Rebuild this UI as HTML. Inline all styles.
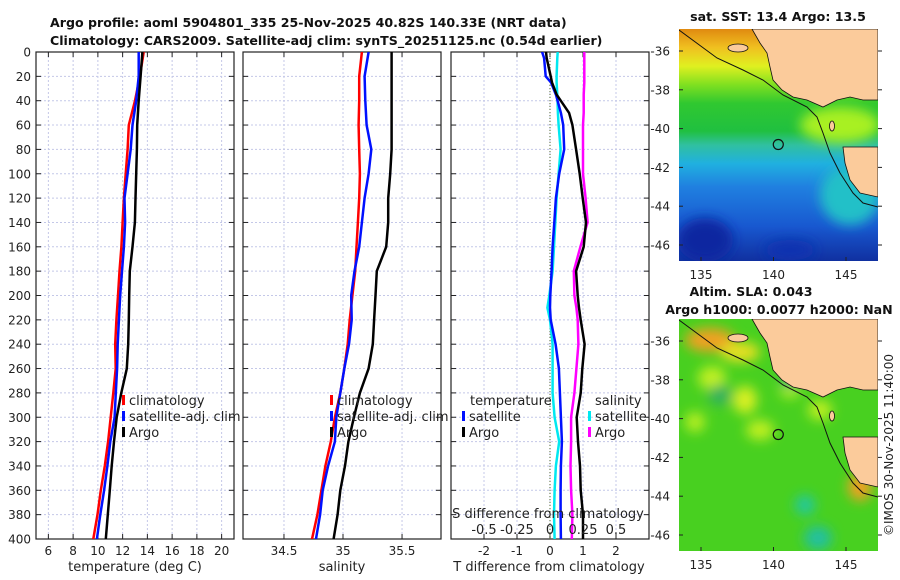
<!DOCTYPE html>
<html><head><meta charset="utf-8"><style>
html,body{margin:0;padding:0;background:#fff}
svg{display:block;font-family:"DejaVu Sans","Liberation Sans",sans-serif}
</style></head><body>
<svg id="fig" width="900" height="580" viewBox="0 0 900 580">
<defs>
<clipPath id="c1"><rect x="36" y="52" width="198" height="487"/></clipPath>
<clipPath id="c2"><rect x="243" y="52" width="198" height="487"/></clipPath>
<clipPath id="c3"><rect x="451" y="52" width="198" height="487"/></clipPath>
<clipPath id="m1"><rect x="679" y="29" width="199" height="232"/></clipPath>
<clipPath id="m2"><rect x="679" y="319" width="199" height="232"/></clipPath>
<linearGradient id="sstg" x1="0" y1="0" x2="0" y2="1">
<stop offset="0" stop-color="#e08a10"/><stop offset="0.08" stop-color="#f0c020"/>
<stop offset="0.16" stop-color="#e0f020"/><stop offset="0.24" stop-color="#80e020"/>
<stop offset="0.32" stop-color="#30c830"/><stop offset="0.44" stop-color="#20c040"/>
<stop offset="0.5" stop-color="#30c0a0"/><stop offset="0.58" stop-color="#20b0e0"/>
<stop offset="0.68" stop-color="#2080e0"/><stop offset="0.85" stop-color="#1858d0"/>
<stop offset="1" stop-color="#1030a0"/></linearGradient>
<filter id="bl"><feGaussianBlur stdDeviation="6"/></filter>
</defs>
<g id="titles" font-weight="bold" font-size="12.6" fill="#111">
<text x="50" y="27">Argo profile: aoml 5904801_335 25-Nov-2025 40.82S 140.33E (NRT data)</text>
<text x="50" y="45">Climatology: CARS2009. Satellite-adj clim: synTS_20251125.nc (0.54d earlier)</text>
</g>
<g id="panels"></g>
<g id="maps"></g>
<text x="893" y="445" font-size="12" fill="#222" text-anchor="middle" transform="rotate(-90 893 445)">©IMOS 30-Nov-2025 11:40:00</text>
</svg>
<script>
const depths=[0,20,40,60,80,100,120,140,160,180,200,220,240,260,280,300,320,340,360,380,400];
const tClim=[13.7,13.4,13.0,12.5,12.4,12.25,12.1,12.0,11.9,11.75,11.63,11.5,11.4,11.44,11.25,11.04,10.83,10.56,10.24,9.97,9.63];
const tSat=[13.3,13.3,13.1,12.8,12.65,12.4,12.15,12.2,12.1,11.95,11.8,11.7,11.6,11.55,11.45,11.35,11.0,10.77,10.5,10.2,9.92];
const tArgo=[13.6,13.45,13.3,13.18,13.15,13.1,13.04,12.99,12.8,12.58,12.53,12.5,12.45,12.34,11.89,11.52,11.3,11.12,10.96,10.8,10.64];
const sClim=[35.16,35.137,35.137,35.132,35.137,35.143,35.137,35.126,35.114,35.103,35.08,35.057,35.04,35.011,34.977,34.931,34.897,34.851,34.817,34.783,34.737];
const sSat=[35.217,35.183,35.189,35.2,35.24,35.217,35.183,35.16,35.137,35.097,35.069,35.074,35.051,35.011,34.977,34.943,34.931,34.874,34.828,34.806,34.771];
const sArgo=[35.412,35.412,35.412,35.412,35.412,35.4,35.383,35.383,35.366,35.286,35.275,35.263,35.252,35.217,35.143,35.092,35.046,35.017,34.977,34.954,34.92];
const dDepths=[0,5,20,25,35,50,60,80,100,120,140,160,180,200,210,220,240,260,280,300,320,340,360,380,400];
const dTSat=[-0.24,-0.18,-0.13,0.03,0.18,0.33,0.4,0.43,0.28,0.18,0.13,0.08,0.05,0.01,0,0.02,0.17,0.27,0.3,0.33,0.36,0.33,0.32,0.32,0.33];
const dTArgo=[-0.12,-0.1,0.02,0.06,0.2,0.58,0.68,0.79,0.9,0.99,1.09,1.02,0.79,0.84,0.88,0.93,1.05,0.98,0.93,0.81,0.85,0.91,0.93,1.0,1.0];
const dSSat=[0.058,0.055,0.05,0.05,0.055,0.06,0.065,0.08,0.065,0.05,0.04,0.03,0.02,-0.005,-0.02,0,0.02,0.02,0.02,0.035,0.07,0.045,0.035,0.03,0.035];
const dSArgo=[0.26,0.26,0.26,0.26,0.255,0.255,0.25,0.25,0.25,0.27,0.285,0.23,0.18,0.185,0.2,0.21,0.215,0.2,0.185,0.16,0.16,0.155,0.16,0.17,0.165];
const yTicks=[0,20,40,60,80,100,120,140,160,180,200,220,240,260,280,300,320,340,360,380,400];
const tTicks=[6,8,10,12,14,16,18,20];
const sTicks=[34.5,35,35.5];
const dTTicks=[-2,-1,0,1,2];
const dSTicks=[-0.5,-0.25,0,0.25,0.5];
const latTicks=[-36,-38,-40,-42,-44,-46];
const lonTicks=[135,140,145];
const argoLon=140.33, argoLat=-40.82;

const NS="http://www.w3.org/2000/svg";
function mk(tag,attrs,parent){const e=document.createElementNS(NS,tag);for(const k in attrs)e.setAttribute(k,attrs[k]);parent.appendChild(e);return e;}
const PT=52,PB=539;
const yScale=d=>PT+(d-0)/(400-0)*(PB-PT);
const panels=document.getElementById('panels');

function panel(x0,x1,dom,ticks,clip,name){
  const xs=v=>x0+(v-dom[0])/(dom[1]-dom[0])*(x1-x0);
  const g=mk('g',{},panels);
  
  
  const grid=mk('g',{stroke:'#c4c8e8','stroke-width':1,'stroke-dasharray':'2,2'},g);
  yTicks.forEach(t=>{if(t>0&&t<400)mk('line',{x1:x0,x2:x1,y1:yScale(t),y2:yScale(t)},grid);});
  ticks.forEach(t=>mk('line',{x1:xs(t),x2:xs(t),y1:PT,y2:PB},grid));
  mk('rect',{x:x0,y:PT,width:x1-x0,height:PB-PT,fill:'none',stroke:'#222','stroke-width':1.2},g);
  const tk=mk('g',{stroke:'#222','stroke-width':1},g);
  yTicks.forEach(t=>{const y=yScale(t);mk('line',{x1:x0,x2:x0+5,y1:y,y2:y},tk);mk('line',{x1:x1-5,x2:x1,y1:y,y2:y},tk);});
  ticks.forEach(t=>{mk('line',{x1:xs(t),x2:xs(t),y1:PB,y2:PB-5},tk);mk('line',{x1:xs(t),x2:xs(t),y1:PT,y2:PT+5},tk);});
  return {g,xs};
}
function line(g,xs,ys,xv,yv,color,w,clip,name){
  const pts=xv.map((v,i)=>xs(v).toFixed(1)+','+yScale(yv[i]).toFixed(1)).join(' ');
  const p=mk('polyline',{points:pts,fill:'none',stroke:color,'stroke-width':w,'stroke-linejoin':'round','clip-path':'url(#'+clip+')'},g);
  
  
}
function txt(g,x,y,s,opts){const t=mk('text',Object.assign({x:x,y:y,'font-size':12,fill:'#222'},opts||{}),g);t.textContent=s;return t;}

const yl=mk('g',{},panels);


yTicks.forEach(t=>txt(yl,31,yScale(t)+4.5,String(t),{'text-anchor':'end'}));

const p1=panel(36,234,[5,21],tTicks,'c1','temperature-panel');
line(p1.g,p1.xs,null,tClim,depths,'#ff0000',2.5,'c1','temp-climatology-line');
line(p1.g,p1.xs,null,tSat,depths,'#0010ff',2.5,'c1','temp-satellite-line');
line(p1.g,p1.xs,null,tArgo,depths,'#000',2.5,'c1','temp-argo-line');
tTicks.forEach(t=>txt(p1.g,p1.xs(t),555,String(t),{'text-anchor':'middle'}));
txt(p1.g,135,571,'temperature (deg C)',{'text-anchor':'middle','font-size':13});

const p2=panel(243,441,[34.153,35.83],sTicks,'c2','salinity-panel');
line(p2.g,p2.xs,null,sClim,depths,'#ff0000',2.5,'c2','sal-climatology-line');
line(p2.g,p2.xs,null,sSat,depths,'#0010ff',2.5,'c2','sal-satellite-line');
line(p2.g,p2.xs,null,sArgo,depths,'#000',2.5,'c2','sal-argo-line');
sTicks.forEach(t=>txt(p2.g,p2.xs(t),555,String(t),{'text-anchor':'middle'}));
txt(p2.g,342,571,'salinity',{'text-anchor':'middle','font-size':13});

const p3=panel(451,649,[-3,3],dTTicks,'c3','difference-panel');
const xsS=v=>p3.xs(v*4);
mk('line',{x1:p3.xs(0),x2:p3.xs(0),y1:PT,y2:PB,stroke:'#556b2f','stroke-width':1,'stroke-dasharray':'1,2'},p3.g);
line(p3.g,xsS,null,dSSat,dDepths,'#00e8f0',2.5,'c3','sal-diff-satellite-line');
line(p3.g,p3.xs,null,dTSat,dDepths,'#0010ff',2.5,'c3','temp-diff-satellite-line');
line(p3.g,xsS,null,dSArgo,dDepths,'#ff00ff',2.5,'c3','sal-diff-argo-line');
line(p3.g,p3.xs,null,dTArgo,dDepths,'#000',2.5,'c3','temp-diff-argo-line');
dTTicks.forEach(t=>txt(p3.g,p3.xs(t),555,String(t),{'text-anchor':'middle'}));
txt(p3.g,549,571,'T difference from climatology',{'text-anchor':'middle','font-size':13});
txt(p3.g,548,518,'S difference from climatology',{'text-anchor':'middle','font-size':13});
dSTicks.forEach(t=>txt(p3.g,xsS(t),534,String(t),{'text-anchor':'middle','font-size':13}));

function legend(x,y,items,name){
  const g=mk('g',{},panels);
  
  
  items.forEach((it,i)=>{
    const yy=y+i*16;
    if(it[1])mk('rect',{x:x,y:yy-10,width:3,height:10,fill:it[1]},g);
    txt(g,x+(it[1]?7:0),yy,it[0],{'font-size':13});
  });
}
legend(122,405,[['climatology','#ff0000'],['satellite-adj. clim','#0010ff'],['Argo','#000']],'temperature-legend');
legend(330,405,[['climatology','#ff0000'],['satellite-adj. clim','#0010ff'],['Argo','#000']],'salinity-legend');
legend(470,405,[['temperature',null]],'diff-legend-temp-header');
legend(462,421,[['satellite','#0010ff'],['Argo','#000']],'diff-legend-temperature');
legend(595,405,[['salinity',null]],'diff-legend-sal-header');
legend(588,421,[['satellite','#00e8f0'],['Argo','#ff00ff']],'diff-legend-salinity');

const maps=document.getElementById('maps');
const lonS=v=>701+(v-135)*14.5;
function map(y0,clip,isSST,name,titles){
  const latS=v=>y0+22+(-36-v)*19.4;
  const g=mk('g',{},maps);
  
  
  const cg=mk('g',{'clip-path':'url(#'+clip+')'},g);
  const off=y0-29;
  if(isSST){
    mk('rect',{x:679,y:y0,width:199,height:232,fill:'url(#sstg)'},cg);
    const bg=mk('g',{filter:'url(#bl)'},cg);
    mk('ellipse',{cx:840,cy:125,rx:40,ry:18,fill:'#a8f020'},bg);
    mk('ellipse',{cx:850,cy:195,rx:30,ry:30,fill:'#20c0c8'},bg);
    mk('ellipse',{cx:705,cy:240,rx:28,ry:22,fill:'#0c28a0'},bg);
    mk('ellipse',{cx:790,cy:250,rx:25,ry:10,fill:'#1030b0'},bg);
  } else {
    mk('rect',{x:679,y:y0,width:199,height:232,fill:'#48d020'},cg);
    const bg=mk('g',{filter:'url(#bl)'},cg);
    [[710,340,25,12,'#f0a020'],[740,352,20,10,'#e8e020'],[712,378,14,12,'#c0f020'],[745,400,12,14,'#d8f020'],[695,422,10,10,'#b8f020'],[790,390,10,8,'#b8f020'],[820,410,12,10,'#c0f020'],[760,430,14,10,'#c0f020'],[860,487,12,14,'#f0a020'],[805,505,10,10,'#20c8a0'],[818,538,14,12,'#20c0a0'],[720,395,12,10,'#30b060'],[790,380,8,8,'#30a880']].forEach(e=>mk('ellipse',{cx:e[0],cy:e[1],rx:e[2],ry:e[3],fill:e[4]},bg));
  }
  const sh=[[679,30],[717,58],[743,70],[763,80],[783,95],[807,107],[817,117],[823,133],[830,153],[840,173],[853,193],[863,203],[878,207]].map(p=>p[0]+','+(p[1]+off)).join(' ');
  mk('polyline',{points:sh,fill:'none',stroke:'#111','stroke-width':1},cg);
  const land=[[752,29],[760,43],[767,53],[770,67],[773,80],[782,90],[793,97],[807,100],[823,107],[837,100],[850,97],[863,100],[878,100],[878,29]].map(p=>p[0]+','+(p[1]+off)).join(' ');
  mk('polygon',{points:land,fill:'#fbcb9b',stroke:'#111','stroke-width':0.8},cg);
  const tas=[[878,147],[843,147],[845,163],[850,180],[860,193],[878,197]].map(p=>p[0]+','+(p[1]+off)).join(' ');
  mk('polygon',{points:tas,fill:'#fbcb9b',stroke:'#111','stroke-width':0.8},cg);
  mk('ellipse',{cx:738,cy:48+off,rx:10,ry:4,fill:'#fbcb9b',stroke:'#111','stroke-width':0.8},cg);
  mk('ellipse',{cx:832,cy:126+off,rx:2.5,ry:5,fill:'#fbcb9b',stroke:'#111','stroke-width':0.8},cg);
  const c=mk('circle',{cx:lonS(argoLon),cy:latS(argoLat),r:5,fill:'none',stroke:'#111','stroke-width':1.2},g);
  
  
  const tk=mk('g',{stroke:'#222','stroke-width':1},g);
  latTicks.forEach(t=>{mk('line',{x1:679,x2:683,y1:latS(t),y2:latS(t)},tk);mk('line',{x1:878,x2:882,y1:latS(t),y2:latS(t)},tk);txt(g,670,latS(t)+4.5,String(t),{'text-anchor':'end'});});
  lonTicks.forEach(t=>{mk('line',{x1:lonS(t),x2:lonS(t),y1:y0+232,y2:y0+228},tk);txt(g,lonS(t),y0+250,String(t),{'text-anchor':'middle'});});
  titles.forEach(tt=>txt(g,tt[0],tt[1],tt[2],{'text-anchor':'middle','font-weight':'bold','fill':'#111','font-size':12.6}));
}
map(29,'m1',true,'sst-map',[[778,21,'sat. SST: 13.4 Argo: 13.5']]);
map(319,'m2',false,'sla-map',[[751,296,'Altim. SLA: 0.043'],[779,314,'Argo h1000: 0.0077 h2000: NaN']]);
</script>
</body></html>
